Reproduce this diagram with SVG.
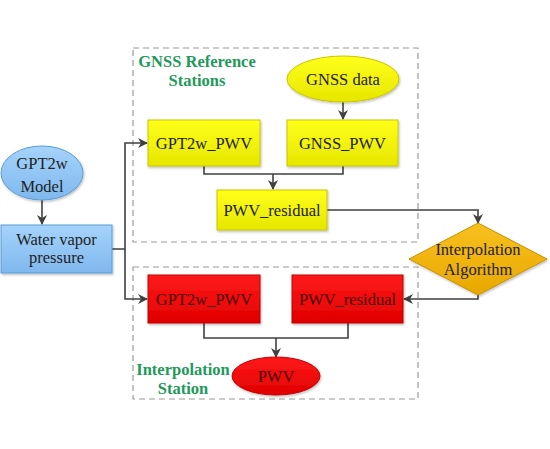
<svg xmlns="http://www.w3.org/2000/svg" width="550" height="449" viewBox="0 0 550 449">
<defs>
<style>
text{font-family:'Liberation Serif','Times New Roman',serif}
.t{font-size:16.5px;text-anchor:middle;fill:#222}
.tr{font-size:16.5px;text-anchor:middle;fill:#4a0000}
.g{font-size:16.5px;font-weight:bold;text-anchor:middle;fill:#1e9a5a}
.dash{fill:none;stroke:#9a9a9a;stroke-width:1.2;stroke-dasharray:6 4}
.c{fill:none;stroke:#404040;stroke-width:1.6}
.yel{fill:url(#gy);stroke:#c9c400;stroke-width:1;filter:url(#sh)}
.red{fill:url(#gr);stroke:#c00000;stroke-width:1;filter:url(#sh)}
.blu{fill:url(#gb);stroke:#5b9bd5;stroke-width:1;filter:url(#sh)}
</style>
<filter id="sh" x="-10%" y="-10%" width="125%" height="130%">
<feDropShadow dx="1" dy="1.5" stdDeviation="1.2" flood-color="#000" flood-opacity="0.25"/>
</filter>
<linearGradient id="gy" x1="0" y1="0" x2="0" y2="1"><stop offset="0" stop-color="#ffff1a"/><stop offset="1" stop-color="#e6e600"/></linearGradient>
<linearGradient id="gr" x1="0" y1="0" x2="0" y2="1"><stop offset="0" stop-color="#ff1a1a"/><stop offset="1" stop-color="#e00000"/></linearGradient>
<linearGradient id="gb" x1="0" y1="0" x2="0" y2="1"><stop offset="0" stop-color="#a5d3fb"/><stop offset="1" stop-color="#7fb8ee"/></linearGradient>
<linearGradient id="go" x1="0" y1="0" x2="0" y2="1"><stop offset="0" stop-color="#f8c020"/><stop offset="1" stop-color="#e8a800"/></linearGradient>
<marker id="ah" markerWidth="10" markerHeight="10" refX="9" refY="5" orient="auto" markerUnits="userSpaceOnUse">
<path d="M0,0 L10,5 L0,10 L3,5 Z" fill="#404040"/>
</marker>
</defs>
<rect width="550" height="449" fill="#fff"/>

<g id="group-reference">
<rect class="dash" x="133" y="48" width="285" height="194"/>
<text class="g" x="197" y="67">GNSS Reference</text>
<text class="g" x="197" y="86">Stations</text>
</g>
<g id="group-interpolation">
<rect class="dash" x="133" y="267" width="285" height="132"/>
<text class="g" x="183" y="375">Interpolation</text>
<text class="g" x="183" y="394">Station</text>
</g>

<g id="connectors">
<path class="c" d="M42,200 L42,224" marker-end="url(#ah)"/>
<path class="c" d="M112,249 L125,249 L125,143 L147,143" marker-end="url(#ah)"/>
<path class="c" d="M125,249 L125,299 L147,299" marker-end="url(#ah)"/>
<path class="c" d="M343,102 L343,119" marker-end="url(#ah)"/>
<path class="c" d="M204,166 L204,174 L343,174 L343,166"/>
<path class="c" d="M273,174 L273,189" marker-end="url(#ah)"/>
<path class="c" d="M327,210 L478,210 L478,223" marker-end="url(#ah)"/>
<path class="c" d="M478,295 L478,299 L404,299" marker-end="url(#ah)"/>
<path class="c" d="M204,323 L204,338 L348,338 L348,323"/>
<path class="c" d="M276,338 L276,357" marker-end="url(#ah)"/>
</g>

<g id="gpt2w-model">
<ellipse class="blu" cx="42" cy="173" rx="41" ry="27"/>
<text class="t" x="42" y="169">GPT2w</text>
<text class="t" x="42" y="192">Model</text>
</g>
<g id="water-vapor">
<rect class="blu" x="1" y="225" width="111" height="48"/>
<text class="t" x="56.5" y="245">Water vapor</text>
<text class="t" x="56.5" y="263">pressure</text>
</g>
<g id="gnss-data">
<ellipse class="yel" cx="343" cy="79" rx="56" ry="23"/>
<text class="t" x="343" y="85">GNSS data</text>
</g>
<g id="gpt2w-pwv-ref">
<rect class="yel" x="148" y="120" width="112" height="46"/>
<text class="t" x="204" y="149">GPT2w_PWV</text>
</g>
<g id="gnss-pwv">
<rect class="yel" x="287" y="120" width="111" height="46"/>
<text class="t" x="342.5" y="149">GNSS_PWV</text>
</g>
<g id="pwv-residual-ref">
<rect class="yel" x="217" y="190" width="110" height="40"/>
<text class="t" x="272" y="216">PWV_residual</text>
</g>
<g id="interp-algorithm">
<path d="M478,223 L547,259 L478,295 L409,259 Z" fill="url(#go)" stroke="#c89000" stroke-width="1" filter="url(#sh)"/>
<text class="t" x="478" y="255">Interpolation</text>
<text class="t" x="478" y="275">Algorithm</text>
</g>
<g id="gpt2w-pwv-int">
<rect class="red" x="148" y="275" width="112" height="48"/>
<text class="tr" x="204" y="305">GPT2w_PWV</text>
</g>
<g id="pwv-residual-int">
<rect class="red" x="292" y="275" width="111" height="48"/>
<text class="tr" x="347.5" y="305">PWV_residual</text>
</g>
<g id="pwv">
<ellipse class="red" cx="276" cy="376" rx="44" ry="19"/>
<text class="tr" x="276" y="382">PWV</text>
</g>
</svg>
